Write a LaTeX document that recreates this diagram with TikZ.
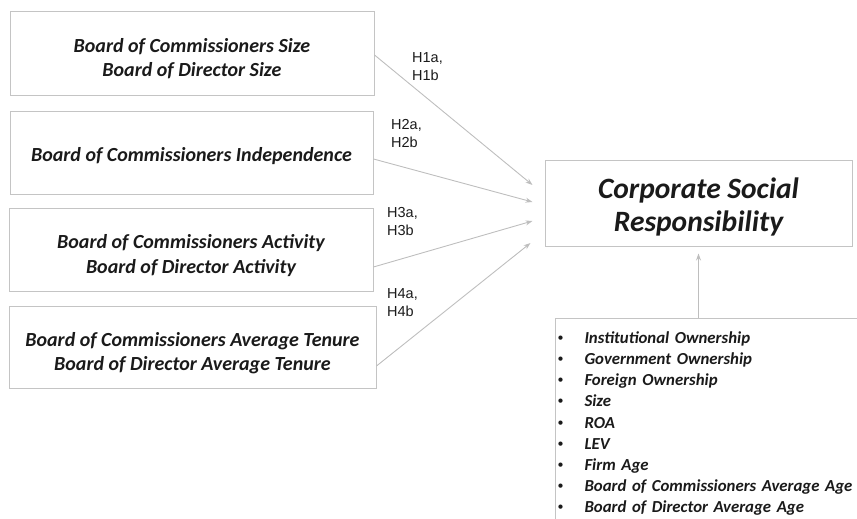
\documentclass[tikz,border=0pt]{standalone}
\usepackage{fontspec}
\setmainfont{Carlito}
\newfontfamily\labelfont{Liberation Sans}
\usetikzlibrary{arrows.meta,calc}
\definecolor{edgegray}{HTML}{C4C4C4}
\definecolor{arrowgray}{HTML}{BEBEBE}
\definecolor{ink}{HTML}{1A1A1A}

\newcommand{\itembullet}[1]{\makebox[27pt][l]{\raisebox{0.25ex}{\fontsize{12}{12}\fontseries{m}\upshape\selectfont\textbullet}}#1}

\begin{document}
\begin{tikzpicture}[x=1pt,y=1pt,
  varbox/.style={draw=edgegray, line width=1pt, rectangle, inner sep=0pt, text=ink,
    font=\fontsize{20}{24.5}\selectfont\bfseries\itshape, align=center,
    text height=45.5pt, text depth=0pt},
  outcome/.style={draw=edgegray, line width=1pt, rectangle, inner sep=0pt, text=ink,
    font=\fontsize{29.5}{33}\selectfont\bfseries\itshape, align=center,
    text height=56pt, text depth=0pt},
  ctrllist/.style={draw=edgegray, line width=1pt, rectangle, text=ink, anchor=north west,
    inner xsep=2pt, inner ysep=13pt, text width=300pt, align=left,
    font=\fontsize{16.8}{21.2}\selectfont\bfseries\itshape},
  hyplabel/.style={anchor=base west, align=left, inner sep=0pt, text=ink,
    font=\labelfont\fontsize{14.5}{18}\selectfont},
  link/.style={draw=arrowgray, line width=0.9pt, -{Stealth[length=7pt,width=5pt]}},
]
\clip (0,0) rectangle (857,519);

% board characteristics
\node[varbox, minimum width=364pt, minimum height=84pt] (size) at (192,465)
  {Board of Commissioners Size\\Board of Director Size};
\node[varbox, minimum width=363pt, minimum height=83pt, text height=16.5pt] (indep) at (191.5,365.5)
  {Board of Commissioners Independence};
\node[varbox, minimum width=364pt, minimum height=83pt] (activ) at (191,268.5)
  {Board of Commissioners Activity\\Board of Director Activity};
\node[varbox, minimum width=367pt, minimum height=82pt] (tenure) at (192.5,171)
  {Board of Commissioners Average Tenure\\Board of Director Average Tenure};

% dependent variable
\node[outcome, minimum width=307pt, minimum height=86pt] (csr) at (698.5,315)
  {Corporate Social\\Responsibility};

% control variables
\node[ctrllist] (ctrl) at (555,201) {%
  \itembullet{Institutional Ownership}\\
  \itembullet{Government Ownership}\\
  \itembullet{Foreign Ownership}\\
  \itembullet{Size}\\
  \itembullet{ROA}\\
  \itembullet{LEV}\\
  \itembullet{Firm Age}\\
  \itembullet{Board of Commissioners Average Age}\\
  \itembullet{Board of Director Average Age}};

% hypotheses
\draw[link] ([yshift=-1pt]size.east) -- ([xshift=-12pt,yshift=19pt]csr.west);
\draw[link] ([yshift=-5.5pt]indep.east) -- ([xshift=-12pt,yshift=2pt]csr.west);
\draw[link] ([yshift=-16.5pt]activ.east) -- ([xshift=-12pt,yshift=-17pt]csr.west);
\draw[link] ([yshift=-18pt]tenure.east) -- ([xshift=-14pt,yshift=-39pt]csr.west);
\draw[link] (csr.south |- ctrl.north) -- ([yshift=-6pt]csr.south);

\node[hyplabel] (h1) at (412,438) {H1a,\\H1b};
\node[hyplabel] (h2) at (391,371) {H2a,\\H2b};
\node[hyplabel] (h3) at (387,283) {H3a,\\H3b};
\node[hyplabel] (h4) at (387,202) {H4a,\\H4b};
\end{tikzpicture}
\end{document}
